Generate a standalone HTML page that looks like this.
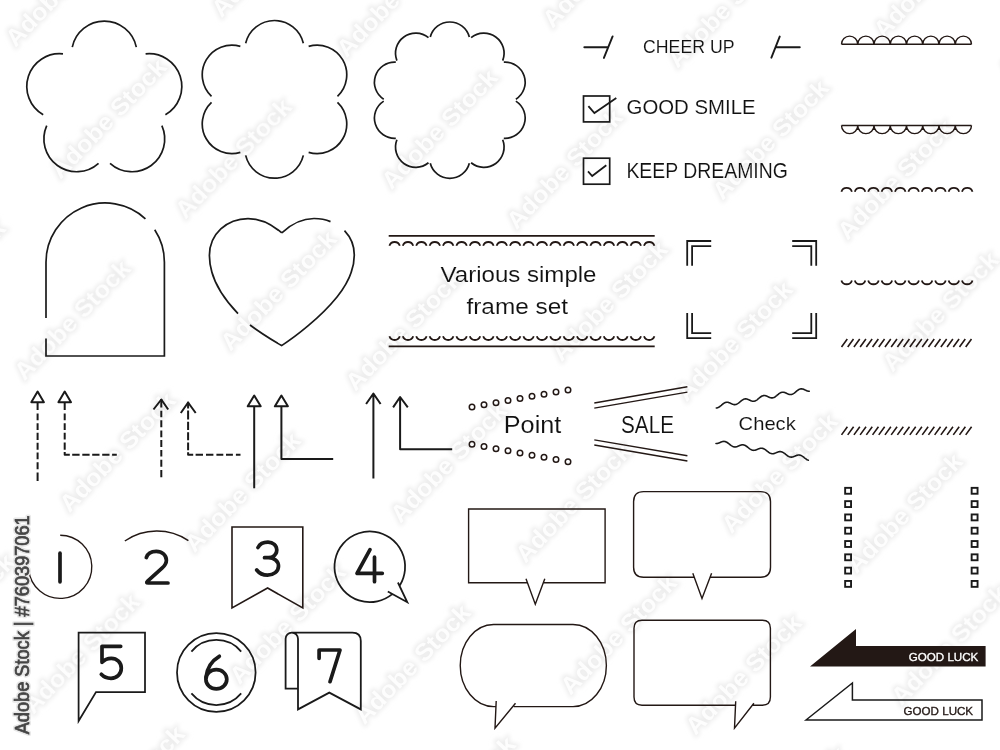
<!DOCTYPE html>
<html><head><meta charset="utf-8"><style>
html,body{margin:0;padding:0;background:#fff;width:1000px;height:750px;overflow:hidden}
svg{display:block}
text{font-family:"Liberation Sans",sans-serif}
</style></head><body>
<svg width="1000" height="750" viewBox="0 0 1000 750">
<rect width="1000" height="750" fill="#fff"/>
<defs><filter id="wb" x="-10%" y="-50%" width="120%" height="200%"><feGaussianBlur stdDeviation="2.2"/></filter></defs>
<g font-family="Liberation Sans, sans-serif" font-weight="bold" font-size="24">
<g fill="#ededed" stroke="#ededed" stroke-width="3.5" filter="url(#wb)"><text transform="translate(-91.5,675) rotate(-46.06)" x="0" y="0" textLength="155" lengthAdjust="spacingAndGlyphs">Adobe Stock</text><text transform="translate(78.5,847) rotate(-46.06)" x="0" y="0" textLength="155" lengthAdjust="spacingAndGlyphs">Adobe Stock</text><text transform="translate(-100.5,341.5) rotate(-46.06)" x="0" y="0" textLength="155" lengthAdjust="spacingAndGlyphs">Adobe Stock</text><text transform="translate(69.5,513.5) rotate(-46.06)" x="0" y="0" textLength="155" lengthAdjust="spacingAndGlyphs">Adobe Stock</text><text transform="translate(239.5,685.5) rotate(-46.06)" x="0" y="0" textLength="155" lengthAdjust="spacingAndGlyphs">Adobe Stock</text><text transform="translate(409.5,857.5) rotate(-46.06)" x="0" y="0" textLength="155" lengthAdjust="spacingAndGlyphs">Adobe Stock</text><text transform="translate(-109.5,8) rotate(-46.06)" x="0" y="0" textLength="155" lengthAdjust="spacingAndGlyphs">Adobe Stock</text><text transform="translate(60.5,180) rotate(-46.06)" x="0" y="0" textLength="155" lengthAdjust="spacingAndGlyphs">Adobe Stock</text><text transform="translate(230.5,352) rotate(-46.06)" x="0" y="0" textLength="155" lengthAdjust="spacingAndGlyphs">Adobe Stock</text><text transform="translate(400.5,524) rotate(-46.06)" x="0" y="0" textLength="155" lengthAdjust="spacingAndGlyphs">Adobe Stock</text><text transform="translate(570.5,696) rotate(-46.06)" x="0" y="0" textLength="155" lengthAdjust="spacingAndGlyphs">Adobe Stock</text><text transform="translate(740.5,868) rotate(-46.06)" x="0" y="0" textLength="155" lengthAdjust="spacingAndGlyphs">Adobe Stock</text><text transform="translate(221.5,18.5) rotate(-46.06)" x="0" y="0" textLength="155" lengthAdjust="spacingAndGlyphs">Adobe Stock</text><text transform="translate(391.5,190.5) rotate(-46.06)" x="0" y="0" textLength="155" lengthAdjust="spacingAndGlyphs">Adobe Stock</text><text transform="translate(561.5,362.5) rotate(-46.06)" x="0" y="0" textLength="155" lengthAdjust="spacingAndGlyphs">Adobe Stock</text><text transform="translate(731.5,534.5) rotate(-46.06)" x="0" y="0" textLength="155" lengthAdjust="spacingAndGlyphs">Adobe Stock</text><text transform="translate(901.5,706.5) rotate(-46.06)" x="0" y="0" textLength="155" lengthAdjust="spacingAndGlyphs">Adobe Stock</text><text transform="translate(552.5,29) rotate(-46.06)" x="0" y="0" textLength="155" lengthAdjust="spacingAndGlyphs">Adobe Stock</text><text transform="translate(722.5,201) rotate(-46.06)" x="0" y="0" textLength="155" lengthAdjust="spacingAndGlyphs">Adobe Stock</text><text transform="translate(892.5,373) rotate(-46.06)" x="0" y="0" textLength="155" lengthAdjust="spacingAndGlyphs">Adobe Stock</text><text transform="translate(883.5,39.5) rotate(-46.06)" x="0" y="0" textLength="155" lengthAdjust="spacingAndGlyphs">Adobe Stock</text><text transform="translate(33.5,715) rotate(-46.06)" x="0" y="0" textLength="155" lengthAdjust="spacingAndGlyphs">Adobe Stock</text><text transform="translate(24.5,381.5) rotate(-46.06)" x="0" y="0" textLength="155" lengthAdjust="spacingAndGlyphs">Adobe Stock</text><text transform="translate(194.5,553.5) rotate(-46.06)" x="0" y="0" textLength="155" lengthAdjust="spacingAndGlyphs">Adobe Stock</text><text transform="translate(364.5,725.5) rotate(-46.06)" x="0" y="0" textLength="155" lengthAdjust="spacingAndGlyphs">Adobe Stock</text><text transform="translate(15.5,48) rotate(-46.06)" x="0" y="0" textLength="155" lengthAdjust="spacingAndGlyphs">Adobe Stock</text><text transform="translate(185.5,220) rotate(-46.06)" x="0" y="0" textLength="155" lengthAdjust="spacingAndGlyphs">Adobe Stock</text><text transform="translate(355.5,392) rotate(-46.06)" x="0" y="0" textLength="155" lengthAdjust="spacingAndGlyphs">Adobe Stock</text><text transform="translate(525.5,564) rotate(-46.06)" x="0" y="0" textLength="155" lengthAdjust="spacingAndGlyphs">Adobe Stock</text><text transform="translate(695.5,736) rotate(-46.06)" x="0" y="0" textLength="155" lengthAdjust="spacingAndGlyphs">Adobe Stock</text><text transform="translate(346.5,58.5) rotate(-46.06)" x="0" y="0" textLength="155" lengthAdjust="spacingAndGlyphs">Adobe Stock</text><text transform="translate(516.5,230.5) rotate(-46.06)" x="0" y="0" textLength="155" lengthAdjust="spacingAndGlyphs">Adobe Stock</text><text transform="translate(686.5,402.5) rotate(-46.06)" x="0" y="0" textLength="155" lengthAdjust="spacingAndGlyphs">Adobe Stock</text><text transform="translate(856.5,574.5) rotate(-46.06)" x="0" y="0" textLength="155" lengthAdjust="spacingAndGlyphs">Adobe Stock</text><text transform="translate(677.5,69) rotate(-46.06)" x="0" y="0" textLength="155" lengthAdjust="spacingAndGlyphs">Adobe Stock</text><text transform="translate(847.5,241) rotate(-46.06)" x="0" y="0" textLength="155" lengthAdjust="spacingAndGlyphs">Adobe Stock</text><text transform="translate(1017.5,413) rotate(-46.06)" x="0" y="0" textLength="155" lengthAdjust="spacingAndGlyphs">Adobe Stock</text><text transform="translate(1008.5,79.5) rotate(-46.06)" x="0" y="0" textLength="155" lengthAdjust="spacingAndGlyphs">Adobe Stock</text></g>
<g fill="#fdfdfd"><text transform="translate(-91.5,675) rotate(-46.06)" x="0" y="0" textLength="155" lengthAdjust="spacingAndGlyphs">Adobe Stock</text><text transform="translate(78.5,847) rotate(-46.06)" x="0" y="0" textLength="155" lengthAdjust="spacingAndGlyphs">Adobe Stock</text><text transform="translate(-100.5,341.5) rotate(-46.06)" x="0" y="0" textLength="155" lengthAdjust="spacingAndGlyphs">Adobe Stock</text><text transform="translate(69.5,513.5) rotate(-46.06)" x="0" y="0" textLength="155" lengthAdjust="spacingAndGlyphs">Adobe Stock</text><text transform="translate(239.5,685.5) rotate(-46.06)" x="0" y="0" textLength="155" lengthAdjust="spacingAndGlyphs">Adobe Stock</text><text transform="translate(409.5,857.5) rotate(-46.06)" x="0" y="0" textLength="155" lengthAdjust="spacingAndGlyphs">Adobe Stock</text><text transform="translate(-109.5,8) rotate(-46.06)" x="0" y="0" textLength="155" lengthAdjust="spacingAndGlyphs">Adobe Stock</text><text transform="translate(60.5,180) rotate(-46.06)" x="0" y="0" textLength="155" lengthAdjust="spacingAndGlyphs">Adobe Stock</text><text transform="translate(230.5,352) rotate(-46.06)" x="0" y="0" textLength="155" lengthAdjust="spacingAndGlyphs">Adobe Stock</text><text transform="translate(400.5,524) rotate(-46.06)" x="0" y="0" textLength="155" lengthAdjust="spacingAndGlyphs">Adobe Stock</text><text transform="translate(570.5,696) rotate(-46.06)" x="0" y="0" textLength="155" lengthAdjust="spacingAndGlyphs">Adobe Stock</text><text transform="translate(740.5,868) rotate(-46.06)" x="0" y="0" textLength="155" lengthAdjust="spacingAndGlyphs">Adobe Stock</text><text transform="translate(221.5,18.5) rotate(-46.06)" x="0" y="0" textLength="155" lengthAdjust="spacingAndGlyphs">Adobe Stock</text><text transform="translate(391.5,190.5) rotate(-46.06)" x="0" y="0" textLength="155" lengthAdjust="spacingAndGlyphs">Adobe Stock</text><text transform="translate(561.5,362.5) rotate(-46.06)" x="0" y="0" textLength="155" lengthAdjust="spacingAndGlyphs">Adobe Stock</text><text transform="translate(731.5,534.5) rotate(-46.06)" x="0" y="0" textLength="155" lengthAdjust="spacingAndGlyphs">Adobe Stock</text><text transform="translate(901.5,706.5) rotate(-46.06)" x="0" y="0" textLength="155" lengthAdjust="spacingAndGlyphs">Adobe Stock</text><text transform="translate(552.5,29) rotate(-46.06)" x="0" y="0" textLength="155" lengthAdjust="spacingAndGlyphs">Adobe Stock</text><text transform="translate(722.5,201) rotate(-46.06)" x="0" y="0" textLength="155" lengthAdjust="spacingAndGlyphs">Adobe Stock</text><text transform="translate(892.5,373) rotate(-46.06)" x="0" y="0" textLength="155" lengthAdjust="spacingAndGlyphs">Adobe Stock</text><text transform="translate(883.5,39.5) rotate(-46.06)" x="0" y="0" textLength="155" lengthAdjust="spacingAndGlyphs">Adobe Stock</text><text transform="translate(33.5,715) rotate(-46.06)" x="0" y="0" textLength="155" lengthAdjust="spacingAndGlyphs">Adobe Stock</text><text transform="translate(24.5,381.5) rotate(-46.06)" x="0" y="0" textLength="155" lengthAdjust="spacingAndGlyphs">Adobe Stock</text><text transform="translate(194.5,553.5) rotate(-46.06)" x="0" y="0" textLength="155" lengthAdjust="spacingAndGlyphs">Adobe Stock</text><text transform="translate(364.5,725.5) rotate(-46.06)" x="0" y="0" textLength="155" lengthAdjust="spacingAndGlyphs">Adobe Stock</text><text transform="translate(15.5,48) rotate(-46.06)" x="0" y="0" textLength="155" lengthAdjust="spacingAndGlyphs">Adobe Stock</text><text transform="translate(185.5,220) rotate(-46.06)" x="0" y="0" textLength="155" lengthAdjust="spacingAndGlyphs">Adobe Stock</text><text transform="translate(355.5,392) rotate(-46.06)" x="0" y="0" textLength="155" lengthAdjust="spacingAndGlyphs">Adobe Stock</text><text transform="translate(525.5,564) rotate(-46.06)" x="0" y="0" textLength="155" lengthAdjust="spacingAndGlyphs">Adobe Stock</text><text transform="translate(695.5,736) rotate(-46.06)" x="0" y="0" textLength="155" lengthAdjust="spacingAndGlyphs">Adobe Stock</text><text transform="translate(346.5,58.5) rotate(-46.06)" x="0" y="0" textLength="155" lengthAdjust="spacingAndGlyphs">Adobe Stock</text><text transform="translate(516.5,230.5) rotate(-46.06)" x="0" y="0" textLength="155" lengthAdjust="spacingAndGlyphs">Adobe Stock</text><text transform="translate(686.5,402.5) rotate(-46.06)" x="0" y="0" textLength="155" lengthAdjust="spacingAndGlyphs">Adobe Stock</text><text transform="translate(856.5,574.5) rotate(-46.06)" x="0" y="0" textLength="155" lengthAdjust="spacingAndGlyphs">Adobe Stock</text><text transform="translate(677.5,69) rotate(-46.06)" x="0" y="0" textLength="155" lengthAdjust="spacingAndGlyphs">Adobe Stock</text><text transform="translate(847.5,241) rotate(-46.06)" x="0" y="0" textLength="155" lengthAdjust="spacingAndGlyphs">Adobe Stock</text><text transform="translate(1017.5,413) rotate(-46.06)" x="0" y="0" textLength="155" lengthAdjust="spacingAndGlyphs">Adobe Stock</text><text transform="translate(1008.5,79.5) rotate(-46.06)" x="0" y="0" textLength="155" lengthAdjust="spacingAndGlyphs">Adobe Stock</text></g>
</g>
<path d="M72.27,47.09 A32.75,32.75 0 0 1 136.33,47.09 M145.61,53.83 A32.75,32.75 0 0 1 165.41,114.77 M161.87,125.68 A32.75,32.75 0 0 1 110.04,163.33 M98.56,163.33 A32.75,32.75 0 0 1 46.73,125.68 M43.19,114.77 A32.75,32.75 0 0 1 62.99,53.83" fill="none" stroke="#1a1a1a" stroke-width="1.7"/>
<path d="M245.66,43.28 A29.65,29.65 0 0 1 303.34,43.28 M308.64,46.34 A29.65,29.65 0 0 1 337.48,96.29 M337.48,102.41 A29.65,29.65 0 0 1 308.64,152.36 M303.34,155.42 A29.65,29.65 0 0 1 245.66,155.42 M240.36,152.36 A29.65,29.65 0 0 1 211.52,102.41 M211.52,96.29 A29.65,29.65 0 0 1 240.36,46.34" fill="none" stroke="#1a1a1a" stroke-width="1.7"/>
<path d="M430.26,37.07 A20.2,20.2 0 0 1 469.34,37.07 M471.1,37.65 A20.2,20.2 0 0 1 502.71,60.61 M503.8,62.11 A20.2,20.2 0 0 1 515.87,99.28 M515.87,101.12 A20.2,20.2 0 0 1 503.8,138.29 M502.71,139.79 A20.2,20.2 0 0 1 471.1,162.75 M469.34,163.33 A20.2,20.2 0 0 1 430.26,163.33 M428.5,162.75 A20.2,20.2 0 0 1 396.89,139.79 M395.8,138.29 A20.2,20.2 0 0 1 383.73,101.12 M383.73,99.28 A20.2,20.2 0 0 1 395.8,62.11 M396.89,60.61 A20.2,20.2 0 0 1 428.5,37.65" fill="none" stroke="#1a1a1a" stroke-width="1.7"/>
<path d="M46,318 V262.2 A59.2,59.2 0 0 1 145.44,218.78 M154.73,229.78 A59.2,59.2 0 0 1 164.4,262.2 V356 H46 V338.6" fill="none" stroke="#1a1a1a" stroke-width="1.7"/>
<path d="M281.8,232.9 C271,223.5 260,218.6 248,218.6 C227,218.6 209.4,234 209.4,255.5 C209.4,276 222,297 238,313.6 M250,325 C262,334 272,340 281.6,345.6 C295,337 320,318 337,297 C349,282 354.3,269 354.3,255 C354.3,245 350,236.5 344.5,230.7 M330.5,221.6 C325,219.2 320,218.5 314,218.5 C302,218.5 291,224.2 281.8,232.9" fill="none" stroke="#1a1a1a" stroke-width="1.7" stroke-linejoin="miter"/>
<line x1="388.7" y1="235.8" x2="654.7" y2="235.8" stroke="#231815" stroke-width="1.8"/>
<path d="M389.4,245.7 A5.5,5.5 0 0 1 399.8,245.7 M402.8,245.7 A5.5,5.5 0 0 1 413.2,245.7 M416.2,245.7 A5.5,5.5 0 0 1 426.6,245.7 M429.6,245.7 A5.5,5.5 0 0 1 440,245.7 M443,245.7 A5.5,5.5 0 0 1 453.4,245.7 M456.4,245.7 A5.5,5.5 0 0 1 466.8,245.7 M469.8,245.7 A5.5,5.5 0 0 1 480.2,245.7 M483.2,245.7 A5.5,5.5 0 0 1 493.6,245.7 M496.6,245.7 A5.5,5.5 0 0 1 507,245.7 M510,245.7 A5.5,5.5 0 0 1 520.4,245.7 M523.4,245.7 A5.5,5.5 0 0 1 533.8,245.7 M536.8,245.7 A5.5,5.5 0 0 1 547.2,245.7 M550.2,245.7 A5.5,5.5 0 0 1 560.6,245.7 M563.6,245.7 A5.5,5.5 0 0 1 574,245.7 M577,245.7 A5.5,5.5 0 0 1 587.4,245.7 M590.4,245.7 A5.5,5.5 0 0 1 600.8,245.7 M603.8,245.7 A5.5,5.5 0 0 1 614.2,245.7 M617.2,245.7 A5.5,5.5 0 0 1 627.6,245.7 M630.6,245.7 A5.5,5.5 0 0 1 641,245.7 M644,245.7 A5.5,5.5 0 0 1 654.4,245.7" fill="none" stroke="#231815" stroke-width="1.8"/>
<path d="M389.4,336.3 A5.5,5.5 0 0 0 399.8,336.3 M402.8,336.3 A5.5,5.5 0 0 0 413.2,336.3 M416.2,336.3 A5.5,5.5 0 0 0 426.6,336.3 M429.6,336.3 A5.5,5.5 0 0 0 440,336.3 M443,336.3 A5.5,5.5 0 0 0 453.4,336.3 M456.4,336.3 A5.5,5.5 0 0 0 466.8,336.3 M469.8,336.3 A5.5,5.5 0 0 0 480.2,336.3 M483.2,336.3 A5.5,5.5 0 0 0 493.6,336.3 M496.6,336.3 A5.5,5.5 0 0 0 507,336.3 M510,336.3 A5.5,5.5 0 0 0 520.4,336.3 M523.4,336.3 A5.5,5.5 0 0 0 533.8,336.3 M536.8,336.3 A5.5,5.5 0 0 0 547.2,336.3 M550.2,336.3 A5.5,5.5 0 0 0 560.6,336.3 M563.6,336.3 A5.5,5.5 0 0 0 574,336.3 M577,336.3 A5.5,5.5 0 0 0 587.4,336.3 M590.4,336.3 A5.5,5.5 0 0 0 600.8,336.3 M603.8,336.3 A5.5,5.5 0 0 0 614.2,336.3 M617.2,336.3 A5.5,5.5 0 0 0 627.6,336.3 M630.6,336.3 A5.5,5.5 0 0 0 641,336.3 M644,336.3 A5.5,5.5 0 0 0 654.4,336.3" fill="none" stroke="#231815" stroke-width="1.8"/>
<line x1="388.7" y1="346.3" x2="654.7" y2="346.3" stroke="#231815" stroke-width="1.8"/>
<path d="M687.2,265.8 V241 H711.2 M692.1,265.8 V246.1 H711.2 M816.2,265.8 V241 H792.2 M811.3,265.8 V246.1 H792.2 M687.2,313 V338.1 H711.2 M692.1,313 V333.2 H711.2 M816.2,313 V338.1 H792.2 M811.3,313 V333.2 H792.2" fill="none" stroke="#1a1a1a" stroke-width="1.8"/>
<path d="M584.3,47.3 H608.1 M612.6,36.4 L603.9,57.9 M779.7,36.6 L771.4,57.7 M775.6,47.3 H799.8" fill="none" stroke="#1a1a1a" stroke-width="1.9" stroke-linecap="round"/>
<rect x="583.5" y="96" width="26.2" height="25.9" fill="none" stroke="#1a1a1a" stroke-width="1.7"/>
<path d="M588.4,106.1 L594.4,113 L616.3,98.1" fill="none" stroke="#1a1a1a" stroke-width="1.8"/>
<rect x="583.5" y="158.2" width="26.2" height="26" fill="none" stroke="#1a1a1a" stroke-width="1.7"/>
<path d="M588,171.3 L592.2,176 L606.3,165.3" fill="none" stroke="#1a1a1a" stroke-width="1.8"/>
<path d="M841.5,44.2 H971.5 M841.5,44.2 A8.12,8.12 0 0 1 857.75,44.2 M857.75,44.2 A8.12,8.12 0 0 1 874,44.2 M874,44.2 A8.12,8.12 0 0 1 890.25,44.2 M890.25,44.2 A8.12,8.12 0 0 1 906.5,44.2 M906.5,44.2 A8.12,8.12 0 0 1 922.75,44.2 M922.75,44.2 A8.12,8.12 0 0 1 939,44.2 M939,44.2 A8.12,8.12 0 0 1 955.25,44.2 M955.25,44.2 A8.12,8.12 0 0 1 971.5,44.2" fill="none" stroke="#231815" stroke-width="1.4"/>
<path d="M841.5,125.5 H971.5 M841.5,125.5 A8.12,8.12 0 0 0 857.75,125.5 M857.75,125.5 A8.12,8.12 0 0 0 874,125.5 M874,125.5 A8.12,8.12 0 0 0 890.25,125.5 M890.25,125.5 A8.12,8.12 0 0 0 906.5,125.5 M906.5,125.5 A8.12,8.12 0 0 0 922.75,125.5 M922.75,125.5 A8.12,8.12 0 0 0 939,125.5 M939,125.5 A8.12,8.12 0 0 0 955.25,125.5 M955.25,125.5 A8.12,8.12 0 0 0 971.5,125.5" fill="none" stroke="#231815" stroke-width="1.4"/>
<path d="M841.4,191.7 A5.5,5.5 0 0 1 851.9,191.7 M854.8,191.7 A5.5,5.5 0 0 1 865.3,191.7 M868.2,191.7 A5.5,5.5 0 0 1 878.7,191.7 M881.6,191.7 A5.5,5.5 0 0 1 892.1,191.7 M895,191.7 A5.5,5.5 0 0 1 905.5,191.7 M908.4,191.7 A5.5,5.5 0 0 1 918.9,191.7 M921.8,191.7 A5.5,5.5 0 0 1 932.3,191.7 M935.2,191.7 A5.5,5.5 0 0 1 945.7,191.7 M948.6,191.7 A5.5,5.5 0 0 1 959.1,191.7 M962,191.7 A5.5,5.5 0 0 1 972.5,191.7" fill="none" stroke="#231815" stroke-width="1.8"/>
<path d="M841.4,280.4 A5.5,5.5 0 0 0 851.9,280.4 M854.8,280.4 A5.5,5.5 0 0 0 865.3,280.4 M868.2,280.4 A5.5,5.5 0 0 0 878.7,280.4 M881.6,280.4 A5.5,5.5 0 0 0 892.1,280.4 M895,280.4 A5.5,5.5 0 0 0 905.5,280.4 M908.4,280.4 A5.5,5.5 0 0 0 918.9,280.4 M921.8,280.4 A5.5,5.5 0 0 0 932.3,280.4 M935.2,280.4 A5.5,5.5 0 0 0 945.7,280.4 M948.6,280.4 A5.5,5.5 0 0 0 959.1,280.4 M962,280.4 A5.5,5.5 0 0 0 972.5,280.4" fill="none" stroke="#231815" stroke-width="1.8"/>
<path d="M841.5,347 L847.3,339 M847.71,347 L853.51,339 M853.92,347 L859.72,339 M860.13,347 L865.93,339 M866.34,347 L872.14,339 M872.55,347 L878.35,339 M878.76,347 L884.56,339 M884.97,347 L890.77,339 M891.18,347 L896.98,339 M897.39,347 L903.19,339 M903.6,347 L909.4,339 M909.81,347 L915.61,339 M916.02,347 L921.82,339 M922.23,347 L928.03,339 M928.44,347 L934.24,339 M934.65,347 L940.45,339 M940.86,347 L946.66,339 M947.07,347 L952.87,339 M953.28,347 L959.08,339 M959.49,347 L965.29,339 M965.7,347 L971.5,339" fill="none" stroke="#231815" stroke-width="1.6"/>
<path d="M841.5,434.9 L847.4,426.7 M847.71,434.9 L853.61,426.7 M853.92,434.9 L859.82,426.7 M860.13,434.9 L866.03,426.7 M866.34,434.9 L872.24,426.7 M872.55,434.9 L878.45,426.7 M878.76,434.9 L884.66,426.7 M884.97,434.9 L890.87,426.7 M891.18,434.9 L897.08,426.7 M897.39,434.9 L903.29,426.7 M903.6,434.9 L909.5,426.7 M909.81,434.9 L915.71,426.7 M916.02,434.9 L921.92,426.7 M922.23,434.9 L928.13,426.7 M928.44,434.9 L934.34,426.7 M934.65,434.9 L940.55,426.7 M940.86,434.9 L946.76,426.7 M947.07,434.9 L952.97,426.7 M953.28,434.9 L959.18,426.7 M959.49,434.9 L965.39,426.7 M965.7,434.9 L971.6,426.7" fill="none" stroke="#231815" stroke-width="1.6"/>
<g fill="none" stroke="#1a1a1a" stroke-width="1.9"><rect x="845.15" y="487.85" width="5.9" height="5.9"/><rect x="971.65" y="487.85" width="5.9" height="5.9"/><rect x="845.15" y="501.15" width="5.9" height="5.9"/><rect x="971.65" y="501.15" width="5.9" height="5.9"/><rect x="845.15" y="514.45" width="5.9" height="5.9"/><rect x="971.65" y="514.45" width="5.9" height="5.9"/><rect x="845.15" y="527.75" width="5.9" height="5.9"/><rect x="971.65" y="527.75" width="5.9" height="5.9"/><rect x="845.15" y="541.05" width="5.9" height="5.9"/><rect x="971.65" y="541.05" width="5.9" height="5.9"/><rect x="845.15" y="554.35" width="5.9" height="5.9"/><rect x="971.65" y="554.35" width="5.9" height="5.9"/><rect x="845.15" y="567.65" width="5.9" height="5.9"/><rect x="971.65" y="567.65" width="5.9" height="5.9"/><rect x="845.15" y="580.95" width="5.9" height="5.9"/><rect x="971.65" y="580.95" width="5.9" height="5.9"/></g>
<path d="M810,666.4 L856,629 V646 H985.6 V666.4 Z" fill="#231815"/>
<path d="M806,720 L852.4,683 V700 H982 V720 Z" fill="none" stroke="#1a1a1a" stroke-width="1.5" stroke-linejoin="miter"/>
<g fill="none" stroke="#1a1a1a" stroke-width="2" stroke-linejoin="round">
<path d="M37.6,391.6 L31.3,402.2 L43.9,402.2 Z"/>
<path d="M64.7,391.6 L58.4,402.2 L71,402.2 Z"/>
<path d="M37.6,402.6 V410.1 M37.6,413.4 V420.3 M37.6,423.3 V429.9 M37.6,432.8 V439.9 M37.6,442.8 V449.7 M37.6,452.6 V459.2 M37.6,462.2 V469.2 M37.6,472.4 V480.9"/>
<path d="M64.7,402.6 V410.1 M64.7,413.4 V420.3 M64.7,423.3 V429.9 M64.7,432.8 V439.6 M64.7,442.4 V449.8 M64.7,452.1 V454.8 H69.8 M72.2,454.8 H79.6 M82.3,454.8 H89.6 M92.2,454.8 H99.5 M102.2,454.8 H109.5 M112.1,454.8 H116.8"/>
<path d="M161.3,399 V407.5 M161.3,410.7 V417.2 M161.3,420.3 V427.2 M161.3,430.4 V437.3 M161.3,440 V446.9 M161.3,450.1 V456.6 M161.3,459.7 V466.7 M161.3,469.9 V477.3"/>
<path d="M153.5,409.5 L161.3,399.5 L168.2,409.5"/>
<path d="M188.1,401.7 V408.5 M188.1,410.6 V419.5 M188.1,421.8 V429.9 M188.1,432.2 V440.3 M188.1,442.6 V450.3 M188.1,452.3 V454.8 H193.2 M195.6,454.8 H203 M206,454.8 H213.4 M216.4,454.8 H223.3 M226,454.8 H232.9 M235.9,454.8 H240.5"/>
<path d="M180.8,413 L188.1,402.5 L195.7,413"/>
<path d="M254.2,395.5 L247.7,406.3 L260.7,406.3 Z"/>
<path d="M254.2,406.3 V488.3"/>
<path d="M281.4,395.5 L274.9,406.3 L287.9,406.3 Z"/>
<path d="M281.4,406.3 V458.9 H333.2"/>
<path d="M373.4,393.5 V478.6 M366.1,404 L373.4,393.5 L380.6,404"/>
<path d="M400.1,397 V449.2 H452.2 M393.1,407.4 L400.1,397 L407.8,407.4"/>
</g>
<g fill="none" stroke="#231815" stroke-width="1.5"><circle cx="472" cy="407" r="2.75"/><circle cx="472" cy="444.3" r="2.75"/><circle cx="484" cy="404.86" r="2.75"/><circle cx="484" cy="446.47" r="2.75"/><circle cx="496" cy="402.72" r="2.75"/><circle cx="496" cy="448.64" r="2.75"/><circle cx="508" cy="400.58" r="2.75"/><circle cx="508" cy="450.81" r="2.75"/><circle cx="520" cy="398.44" r="2.75"/><circle cx="520" cy="452.98" r="2.75"/><circle cx="532" cy="396.3" r="2.75"/><circle cx="532" cy="455.15" r="2.75"/><circle cx="544" cy="394.16" r="2.75"/><circle cx="544" cy="457.32" r="2.75"/><circle cx="556" cy="392.02" r="2.75"/><circle cx="556" cy="459.49" r="2.75"/><circle cx="568" cy="389.88" r="2.75"/><circle cx="568" cy="461.66" r="2.75"/></g>
<path d="M594.3,403 L687.4,386.7 M594.3,408.1 L687.4,392.1 M594.3,439.9 L687.4,455.7 M594.3,445 L687.4,461" fill="none" stroke="#231815" stroke-width="1.4"/>
<polyline points="716.3,407.96 716.69,407.93 717.07,407.86 717.46,407.76 717.85,407.62 718.24,407.46 718.62,407.26 719.01,407.04 719.4,406.79 719.79,406.51 720.17,406.22 720.56,405.92 720.95,405.6 721.34,405.28 721.72,404.95 722.11,404.63 722.5,404.31 722.89,404 723.27,403.71 723.66,403.43 724.05,403.18 724.44,402.95 724.82,402.76 725.21,402.59 725.6,402.45 725.99,402.34 726.38,402.27 726.76,402.23 727.15,402.23 727.54,402.26 727.92,402.31 728.31,402.4 728.7,402.51 729.09,402.64 729.47,402.79 729.86,402.96 730.25,403.14 730.64,403.32 731.02,403.51 731.41,403.69 731.8,403.87 732.19,404.04 732.57,404.19 732.96,404.33 733.35,404.44 733.74,404.53 734.12,404.59 734.51,404.62 734.9,404.61 735.29,404.58 735.67,404.51 736.06,404.41 736.45,404.27 736.84,404.11 737.22,403.91 737.61,403.69 738,403.44 738.39,403.17 738.77,402.87 739.16,402.57 739.55,402.25 739.94,401.93 740.32,401.6 740.71,401.28 741.1,400.96 741.49,400.65 741.88,400.36 742.26,400.09 742.65,399.83 743.04,399.61 743.42,399.41 743.81,399.24 744.2,399.1 744.59,399 744.97,398.92 745.36,398.89 745.75,398.88 746.14,398.91 746.52,398.96 746.91,399.05 747.3,399.16 747.69,399.29 748.07,399.44 748.46,399.61 748.85,399.79 749.24,399.97 749.62,400.16 750.01,400.34 750.4,400.52 750.79,400.69 751.17,400.84 751.56,400.98 751.95,401.09 752.34,401.18 752.72,401.24 753.11,401.27 753.5,401.27 753.89,401.23 754.27,401.16 754.66,401.06 755.05,400.93 755.44,400.76 755.82,400.56 756.21,400.34 756.6,400.09 756.99,399.82 757.38,399.53 757.76,399.22 758.15,398.9 758.54,398.58 758.92,398.25 759.31,397.93 759.7,397.61 760.09,397.3 760.47,397.01 760.86,396.74 761.25,396.49 761.64,396.26 762.02,396.06 762.41,395.89 762.8,395.75 763.19,395.65 763.57,395.58 763.96,395.54 764.35,395.53 764.74,395.56 765.12,395.62 765.51,395.7 765.9,395.81 766.29,395.95 766.67,396.1 767.06,396.26 767.45,396.44 767.84,396.62 768.22,396.81 768.61,397 769,397.17 769.39,397.34 769.77,397.5 770.16,397.63 770.55,397.74 770.94,397.83 771.32,397.89 771.71,397.92 772.1,397.92 772.49,397.88 772.88,397.82 773.26,397.71 773.65,397.58 774.04,397.41 774.42,397.22 774.81,396.99 775.2,396.74 775.59,396.47 775.97,396.18 776.36,395.87 776.75,395.56 777.14,395.23 777.52,394.91 777.91,394.58 778.3,394.26 778.69,393.96 779.07,393.66 779.46,393.39 779.85,393.14 780.24,392.91 780.62,392.71 781.01,392.54 781.4,392.4 781.79,392.3 782.17,392.23 782.56,392.19 782.95,392.19 783.34,392.21 783.72,392.27 784.11,392.35 784.5,392.46 784.89,392.6 785.27,392.75 785.66,392.91 786.05,393.09 786.44,393.28 786.82,393.46 787.21,393.65 787.6,393.83 787.99,393.99 788.38,394.15 788.76,394.28 789.15,394.39 789.54,394.48 789.92,394.54 790.31,394.57 790.7,394.57 791.09,394.54 791.47,394.47 791.86,394.37 792.25,394.23 792.64,394.06 793.02,393.87 793.41,393.64 793.8,393.39 794.19,393.12 794.57,392.83 794.96,392.52 795.35,392.21 795.74,391.88 796.12,391.56 796.51,391.23 796.9,390.92 797.29,390.61 797.67,390.32 798.06,390.04 798.45,389.79 798.84,389.56 799.22,389.36 799.61,389.19 800,389.06 800.39,388.95 800.77,388.88 801.16,388.84 801.55,388.84 801.94,388.86 802.32,388.92 802.71,389.01 803.1,389.12 803.49,389.25 803.88,389.4 804.26,389.57 804.65,389.74 805.04,389.93 805.42,390.12 805.81,390.3 806.2,390.48 806.59,390.65 806.97,390.8 807.36,390.93 807.75,391.05 808.14,391.13 808.52,391.19 808.91,391.22 809.3,391.22" fill="none" stroke="#1a1a1a" stroke-width="1.6" stroke-linecap="round" stroke-linejoin="round"/>
<polyline points="716,443.54 716.38,443.54 716.77,443.52 717.15,443.47 717.54,443.39 717.92,443.3 718.31,443.18 718.69,443.04 719.08,442.9 719.46,442.74 719.85,442.58 720.23,442.41 720.62,442.24 721,442.09 721.38,441.94 721.77,441.8 722.15,441.68 722.54,441.58 722.92,441.5 723.31,441.45 723.69,441.42 724.08,441.42 724.46,441.46 724.85,441.52 725.23,441.61 725.61,441.73 726,441.88 726.38,442.06 726.77,442.27 727.15,442.5 727.54,442.75 727.92,443.01 728.31,443.3 728.69,443.59 729.08,443.89 729.46,444.2 729.85,444.5 730.23,444.8 730.61,445.09 731,445.38 731.38,445.64 731.77,445.89 732.15,446.11 732.54,446.32 732.92,446.49 733.31,446.64 733.69,446.76 734.08,446.85 734.46,446.91 734.84,446.93 735.23,446.93 735.61,446.9 736,446.85 736.38,446.77 736.77,446.66 737.15,446.54 737.54,446.4 737.92,446.25 738.31,446.09 738.69,445.93 739.08,445.76 739.46,445.6 739.84,445.44 740.23,445.3 740.61,445.16 741,445.05 741.38,444.95 741.77,444.88 742.15,444.83 742.54,444.81 742.92,444.82 743.31,444.86 743.69,444.93 744.07,445.03 744.46,445.16 744.84,445.32 745.23,445.51 745.61,445.72 746,445.95 746.38,446.2 746.77,446.48 747.15,446.76 747.54,447.06 747.92,447.36 748.3,447.67 748.69,447.97 749.07,448.27 749.46,448.56 749.84,448.84 750.23,449.1 750.61,449.34 751,449.56 751.38,449.76 751.77,449.93 752.15,450.07 752.54,450.18 752.92,450.26 753.3,450.31 753.69,450.33 754.07,450.32 754.46,450.29 754.84,450.22 755.23,450.14 755.61,450.03 756,449.9 756.38,449.76 756.77,449.61 757.15,449.45 757.53,449.28 757.92,449.12 758.3,448.95 758.69,448.8 759.07,448.66 759.46,448.53 759.84,448.42 760.23,448.33 760.61,448.26 761,448.22 761.38,448.21 761.77,448.22 762.15,448.27 762.53,448.35 762.92,448.45 763.3,448.59 763.69,448.76 764.07,448.95 764.46,449.17 764.84,449.4 765.23,449.66 765.61,449.94 766,450.23 766.38,450.53 766.76,450.83 767.15,451.13 767.53,451.44 767.92,451.73 768.3,452.02 768.69,452.3 769.07,452.55 769.46,452.79 769.84,453 770.23,453.19 770.61,453.36 771,453.49 771.38,453.59 771.76,453.67 772.15,453.71 772.53,453.72 772.92,453.71 773.3,453.67 773.69,453.6 774.07,453.51 774.46,453.39 774.84,453.26 775.23,453.12 775.61,452.96 776,452.8 776.38,452.63 776.76,452.47 777.15,452.31 777.53,452.16 777.92,452.02 778.3,451.89 778.69,451.79 779.07,451.7 779.46,451.64 779.84,451.61 780.23,451.6 780.61,451.63 780.99,451.68 781.38,451.76 781.76,451.88 782.15,452.02 782.53,452.19 782.92,452.39 783.3,452.62 783.69,452.86 784.07,453.12 784.46,453.4 784.84,453.69 785.22,453.99 785.61,454.3 785.99,454.6 786.38,454.9 786.76,455.2 787.15,455.48 787.53,455.75 787.92,456.01 788.3,456.24 788.69,456.45 789.07,456.63 789.46,456.79 789.84,456.91 790.22,457.01 790.61,457.07 790.99,457.11 791.38,457.12 791.76,457.09 792.15,457.05 792.53,456.97 792.92,456.87 793.3,456.76 793.69,456.62 794.07,456.47 794.45,456.32 794.84,456.15 795.22,455.99 795.61,455.82 795.99,455.66 796.38,455.51 796.76,455.38 797.15,455.26 797.53,455.16 797.92,455.08 798.3,455.02 798.69,455 799.07,455 799.45,455.03 799.84,455.09 800.22,455.18 800.61,455.31 800.99,455.46 801.38,455.64 801.76,455.84 802.15,456.07 802.53,456.32 802.92,456.58 803.3,456.87 803.68,457.16 804.07,457.46 804.45,457.77 804.84,458.07 805.22,458.37 805.61,458.66 805.99,458.95 806.38,459.21 806.76,459.46 807.15,459.69 807.53,459.89 807.92,460.06 808.3,460.21" fill="none" stroke="#1a1a1a" stroke-width="1.6" stroke-linecap="round" stroke-linejoin="round"/>
<path d="M60.2,535.2 A31.6,31.6 0 1 1 28.77,570.1" fill="none" stroke="#231815" stroke-width="1.35"/>
<path d="M60,553.2 V581.8" fill="none" stroke="#1a1a1a" stroke-width="3.7" stroke-linecap="round" stroke-linejoin="round"/>
<path d="M124.8,541 A56.5,56.5 0 0 1 188.4,540.6" fill="none" stroke="#231815" stroke-width="1.35"/>
<path d="M146.3,557.6 C147.5,553.6 151.5,551.3 156.3,551.3 C162,551.3 166.4,555 166.4,560.2 C166.4,563.2 164.6,565.8 162,568.2 L147.6,581.2 Q145.6,583 148.2,583 H168" fill="none" stroke="#1a1a1a" stroke-width="3.7" stroke-linecap="round" stroke-linejoin="round"/>
<path d="M232,527 H302.8 V608 L267.6,588 L232,608 Z" fill="none" stroke="#231815" stroke-width="1.6" stroke-linejoin="miter"/>
<path d="M258,547.5 C260,543.5 264,542.2 268,542.2 C273,542.2 276.8,545.5 276.8,550 C276.8,554.5 273,557.7 268.5,557.7 H264.5 M268.5,557.7 C274,557.7 278.5,561 278.5,566 C278.5,571.5 273.5,575.2 267.5,575.2 C262.5,575.2 259,573 256.7,570" fill="none" stroke="#1a1a1a" stroke-width="3.7" stroke-linecap="round" stroke-linejoin="round"/>
<path d="M391.92,594.31 A35.3,35.3 0 1 1 399.77,585.45 M397.9,582.5 L407.3,602.3 L387.8,591.6" fill="none" stroke="#1a1a1a" stroke-width="1.75" stroke-linejoin="miter"/>
<path d="M370,549.7 L357,573.3 H382.3 M374.5,557 V581.7" fill="none" stroke="#1a1a1a" stroke-width="3.7" stroke-linecap="round" stroke-linejoin="round"/>
<path d="M78.6,632.6 H145 V692 H96 L78.6,721 Z" fill="none" stroke="#1a1a1a" stroke-width="1.75" stroke-linejoin="miter"/>
<path d="M120.7,646.3 H102 V662.3 C104.5,659.5 107.5,658.3 111.3,658.3 C117,658.3 121.3,662.5 121.3,668.3 C121.3,674 117,678.3 111,678.3 C106.5,678.3 103.3,676.5 101.3,674.3" fill="none" stroke="#1a1a1a" stroke-width="3.7" stroke-linecap="round" stroke-linejoin="round"/>
<circle cx="216.3" cy="672.5" r="39.3" fill="none" stroke="#1a1a1a" stroke-width="1.75"/>
<path d="M191.4,651.61 A32.5,32.5 0 0 1 241.2,651.61 M241.2,693.39 A32.5,32.5 0 0 1 191.4,693.39" fill="none" stroke="#1a1a1a" stroke-width="1.75"/>
<path d="M219.3,656.3 C213,660 207,667 205.95,677.5" fill="none" stroke="#1a1a1a" stroke-width="3.7" stroke-linecap="round" stroke-linejoin="round"/>
<ellipse cx="216.35" cy="679.3" rx="10.45" ry="9.6" fill="none" stroke="#1a1a1a" stroke-width="3.7" stroke-linecap="round" stroke-linejoin="round"/>
<path d="M298,688.6 H285.6 V638.8 A6.2,6.2 0 0 1 298,638.8 V709.4 L329.3,692.6 L360.8,709.4 V641 Q360.8,632.6 352.4,632.6 H291.8" fill="none" stroke="#1a1a1a" stroke-width="1.8" stroke-linejoin="miter"/>
<path d="M319.1,658.3 V650 H340 L330,681.7" fill="none" stroke="#1a1a1a" stroke-width="3.7" stroke-linecap="round" stroke-linejoin="round"/>
<path d="M527.4,582.8 H468.6 V509 H605.1 V582.8 H543.4 M526,578.7 L535.3,604.3 L544.8,578.7" fill="none" stroke="#231815" stroke-width="1.4" stroke-linejoin="miter"/>
<path d="M694.4,577.2 H643.6 Q633.6,577.2 633.6,567.2 V501.6 Q633.6,491.6 643.6,491.6 H760.5 Q770.5,491.6 770.5,501.6 V567.2 Q770.5,577.2 760.5,577.2 H710.1 M692.8,573.2 L702,598.4 L711.6,573.2" fill="none" stroke="#231815" stroke-width="1.4" stroke-linejoin="miter"/>
<path d="M513.8,706.6 H573 A33.4,41.05 0 0 0 573,624.5 H493.6 A33.4,41.05 0 0 0 493.6,706.6 H496.2 M515.5,703.2 L495,728.2 L496.2,701" fill="none" stroke="#231815" stroke-width="1.4" stroke-linejoin="miter"/>
<path d="M735.6,705.2 H642 Q634,705.2 634,697 V628.3 Q634,620.3 642,620.3 H762.4 Q770.4,620.3 770.4,628.3 V697 Q770.4,705.2 762.4,705.2 H752.6 M735.7,701.2 L734.5,728.2 L753.9,703.2" fill="none" stroke="#231815" stroke-width="1.4" stroke-linejoin="miter"/>
<g opacity="0.999">
<text x="643" y="52.9" font-size="19.2" textLength="91.5" lengthAdjust="spacingAndGlyphs" fill="#111" stroke="#fff" stroke-width="0.1">CHEER UP</text>
<text x="626.6" y="113.6" font-size="21" textLength="129" lengthAdjust="spacingAndGlyphs" fill="#111" stroke="#fff" stroke-width="0.1">GOOD SMILE</text>
<text x="626.4" y="178.4" font-size="21.6" textLength="161.5" lengthAdjust="spacingAndGlyphs" fill="#111" stroke="#fff" stroke-width="0.1">KEEP DREAMING</text>
<text x="440.5" y="282.2" font-size="22" textLength="156" lengthAdjust="spacingAndGlyphs" fill="#111" stroke="#fff" stroke-width="0.1">Various simple</text>
<text x="466.5" y="313.7" font-size="22" textLength="101.5" lengthAdjust="spacingAndGlyphs" fill="#111" stroke="#fff" stroke-width="0.1">frame set</text>
<text x="503.8" y="433.4" font-size="24.6" textLength="57.5" lengthAdjust="spacingAndGlyphs" fill="#111" stroke="#fff" stroke-width="0.1">Point</text>
<text x="621" y="433" font-size="23.8" textLength="53" lengthAdjust="spacingAndGlyphs" fill="#111" stroke="#fff" stroke-width="0.1">SALE</text>
<text x="738.6" y="429.7" font-size="19" textLength="57.2" lengthAdjust="spacingAndGlyphs" fill="#111" stroke="#fff" stroke-width="0.1">Check</text>
<text x="908.8" y="661.2" font-size="11.6" textLength="69.5" lengthAdjust="spacingAndGlyphs" fill="#fff" stroke="#fff" stroke-width="0.35">GOOD LUCK</text>
<text x="903.6" y="715.1" font-size="11.8" textLength="69.5" lengthAdjust="spacingAndGlyphs" fill="#231815" stroke="#231815" stroke-width="0.35">GOOD LUCK</text>
<text x="0" y="0" font-size="19.6" textLength="219" lengthAdjust="spacingAndGlyphs" fill="#e8e8e8" stroke="#e8e8e8" stroke-width="4" stroke-linejoin="round" transform="translate(28.9,734.3) rotate(-90)">Adobe Stock | #760397061</text>
<text x="0" y="0" font-size="19.6" textLength="219" lengthAdjust="spacingAndGlyphs" fill="#444" stroke="#444" stroke-width="0.7" transform="translate(28.9,734.3) rotate(-90)">Adobe Stock | #760397061</text>
</g>
</svg>
</body></html>
